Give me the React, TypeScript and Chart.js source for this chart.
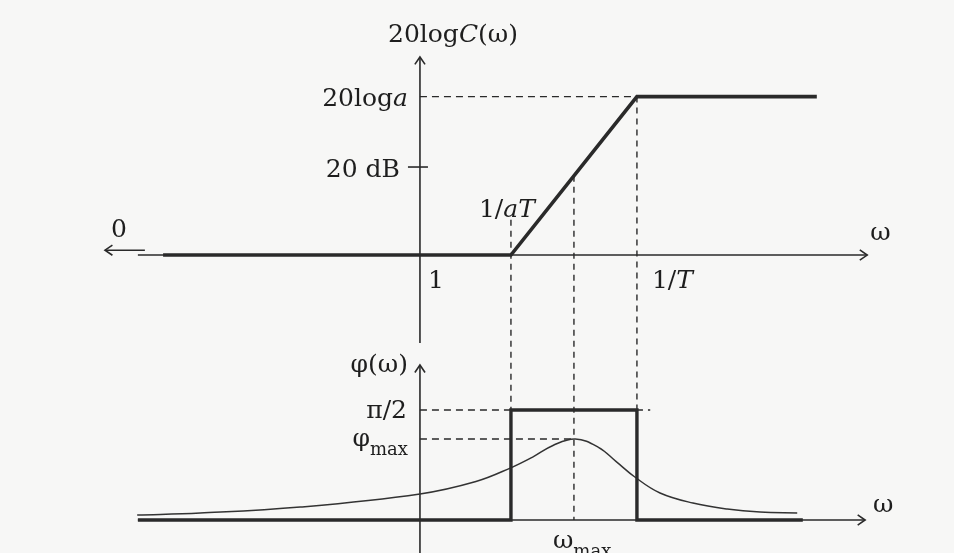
import React, { useEffect, useRef } from "react";
import { Chart, registerables } from "chart.js";
Chart.register(...registerables);

// x axis: log10(ω) in decades (ω = 1 at 0)
const X_RANGE = [-6, 7.63];
// upper panel: gain in dB
const MAG_RANGE = [-67.7, 57.95];
// lower panel: phase in degrees
const PH_RANGE = [-27, 425.5];

const LOG_INV_AT = 1.3; // log10(1/aT)
const LOG_INV_T = 3.1; // log10(1/T)
const LOG_W_MAX = 2.2; // log10(ωmax)
const MAG_HIGH = 36; // 20 log a (dB)
const MAG_TICK = 20; // 20 dB tick
const MAG_AT_WMAX = 18; // asymptote at ωmax
const PHI_HALF_PI = 90;
const PHI_MAX = 66.3;

// asymptotic gain
const magX = [-3.67, LOG_INV_AT, LOG_INV_T, 5.67];
const magY = [0, 0, MAG_HIGH, MAG_HIGH];

// asymptotic phase (rectangle)
const phaseAsymX = [-4.03, LOG_INV_AT, LOG_INV_AT, LOG_INV_T, LOG_INV_T, 5.47];
const phaseAsymY = [0, 0, PHI_HALF_PI, PHI_HALF_PI, 0, 0];

const phaseCurveX = [-4.04, -3.14, -1.71, 0, 0.8, 1.29, 1.61, 1.9, 2.22, 2.55, 2.8, 3.07, 3.43, 3.9, 4.39, 4.86, 5.39];
const phaseCurveY = [4.1, 5.7, 10.6, 21.3, 31.5, 42.5, 51.5, 61.0, 66.3, 59.5, 48.0, 35.2, 22.1, 13.9, 9.0, 6.5, 5.7];

// axes extents
const AXIS_X_START = -4.03;
const UPPER_AXIS_X_END = 6.39;
const LOWER_AXIS_X_END = 6.36;
const UPPER_VAXIS = [-20, 45]; // dB
const LOWER_VAXIS_TOP = 126.8; // deg
const ZERO_ARROW = [-3.93, -4.5]; // ω -> 0 arrow
const ZERO_ARROW_DB = 1.1;
const GUIDE_TOPS = [8, MAG_AT_WMAX, MAG_HIGH]; // dB where vertical guides start
const GUIDE_XS = [LOG_INV_AT, LOG_W_MAX, LOG_INV_T];
const HALF_PI_GUIDE_END = 3.29;

const INK = "#2a2a2a";
const FONT = "DejaVu Serif";
const FS = 25;

type Part = { t: string; i?: boolean; sub?: boolean };

function drawRich(ctx: CanvasRenderingContext2D, parts: Part[], x: number, y: number, align: "left" | "right" | "center") {
  const fontOf = (p: Part) => `${p.i ? "italic " : ""}${p.sub ? Math.round(FS * 0.72) : FS}px "${FONT}"`;
  let w = 0;
  for (const p of parts) {
    ctx.font = fontOf(p);
    w += ctx.measureText(p.t).width;
  }
  let cx = align === "left" ? x : align === "right" ? x - w : x - w / 2;
  ctx.textAlign = "left";
  ctx.textBaseline = "alphabetic";
  ctx.fillStyle = "#1e1e1e";
  for (const p of parts) {
    ctx.font = fontOf(p);
    ctx.fillText(p.t, cx, y + (p.sub ? 9 : 0));
    cx += ctx.measureText(p.t).width;
  }
}

function arrowHead(ctx: CanvasRenderingContext2D, x: number, y: number, ang: number) {
  const len = 9;
  const sp = 0.6;
  ctx.beginPath();
  ctx.moveTo(x - len * Math.cos(ang - sp), y - len * Math.sin(ang - sp));
  ctx.lineTo(x, y);
  ctx.lineTo(x - len * Math.cos(ang + sp), y - len * Math.sin(ang + sp));
  ctx.stroke();
}

const bgPlugin = {
  id: "bg",
  beforeDraw(chart: any) {
    const { ctx, width, height } = chart;
    ctx.save();
    ctx.fillStyle = "#f7f7f6";
    ctx.fillRect(0, 0, width, height);
    ctx.restore();
  },
};

const axesPlugin = {
  id: "axesDecor",
  beforeDatasetsDraw(chart: any) {
    const { ctx } = chart;
    const sx = chart.scales.x;
    const ym = chart.scales.yMag;
    const yp = chart.scales.yPh;
    const X = (v: number) => sx.getPixelForValue(v);
    const M = (v: number) => ym.getPixelForValue(v);
    const P = (v: number) => yp.getPixelForValue(v);
    ctx.save();
    ctx.strokeStyle = INK;
    ctx.lineCap = "butt";

    // vertical dashed guides
    ctx.lineWidth = 1.4;
    ctx.setLineDash([6, 5]);
    GUIDE_XS.forEach((gx, i) => {
      ctx.beginPath();
      ctx.moveTo(X(gx), M(GUIDE_TOPS[i]));
      ctx.lineTo(X(gx), P(0));
      ctx.stroke();
    });
    ctx.setLineDash([]);

    // axes
    ctx.lineWidth = 1.6;
    const x0 = X(0);
    // upper horizontal
    ctx.beginPath();
    ctx.moveTo(X(AXIS_X_START), M(0));
    ctx.lineTo(X(UPPER_AXIS_X_END), M(0));
    ctx.stroke();
    arrowHead(ctx, X(UPPER_AXIS_X_END), M(0), 0);
    // upper vertical
    ctx.beginPath();
    ctx.moveTo(x0, M(UPPER_VAXIS[0]));
    ctx.lineTo(x0, M(UPPER_VAXIS[1]));
    ctx.stroke();
    arrowHead(ctx, x0, M(UPPER_VAXIS[1]), -Math.PI / 2);
    // lower horizontal
    ctx.beginPath();
    ctx.moveTo(X(AXIS_X_START), P(0));
    ctx.lineTo(X(LOWER_AXIS_X_END), P(0));
    ctx.stroke();
    arrowHead(ctx, X(LOWER_AXIS_X_END), P(0), 0);
    // lower vertical
    ctx.beginPath();
    ctx.moveTo(x0, P(PH_RANGE[0]));
    ctx.lineTo(x0, P(LOWER_VAXIS_TOP));
    ctx.stroke();
    arrowHead(ctx, x0, P(LOWER_VAXIS_TOP), -Math.PI / 2);
    // ω -> 0 arrow
    ctx.beginPath();
    ctx.moveTo(X(ZERO_ARROW[0]), M(ZERO_ARROW_DB));
    ctx.lineTo(X(ZERO_ARROW[1]), M(ZERO_ARROW_DB));
    ctx.stroke();
    arrowHead(ctx, X(ZERO_ARROW[1]), M(ZERO_ARROW_DB), Math.PI);
    // 20 dB tick
    ctx.beginPath();
    ctx.moveTo(x0 - 12, M(MAG_TICK));
    ctx.lineTo(x0 + 8, M(MAG_TICK));
    ctx.stroke();

    // labels
    drawRich(ctx, [{ t: "20log" }, { t: "C", i: true }, { t: "(ω)" }], x0 + 33, M(UPPER_VAXIS[1]) - 15, "center");
    drawRich(ctx, [{ t: "20log" }, { t: "a", i: true }], x0 - 12, M(MAG_HIGH) + 9, "right");
    drawRich(ctx, [{ t: "20 dB" }], x0 - 20, M(MAG_TICK) + 10, "right");
    drawRich(ctx, [{ t: "1/" }, { t: "aT", i: true }], X(LOG_INV_AT) - 32, M(0) - 38, "left");
    drawRich(ctx, [{ t: "0" }], X(ZERO_ARROW[1]) + 14, M(0) - 18, "center");
    drawRich(ctx, [{ t: "1" }], x0 + 8, M(0) + 33, "left");
    drawRich(ctx, [{ t: "1/" }, { t: "T", i: true }], X(LOG_INV_T) + 15, M(0) + 33, "left");
    drawRich(ctx, [{ t: "ω" }], X(UPPER_AXIS_X_END) + 3, M(0) - 15, "left");
    drawRich(ctx, [{ t: "φ(ω)" }], x0 - 12, P(LOWER_VAXIS_TOP) + 7, "right");
    drawRich(ctx, [{ t: "π/2" }], x0 - 13, P(PHI_HALF_PI) + 8, "right");
    drawRich(ctx, [{ t: "φ" }, { t: "max", sub: true }], x0 - 12, P(PHI_MAX) + 7, "right");
    drawRich(ctx, [{ t: "ω" }, { t: "max", sub: true }], X(LOG_W_MAX) - 21, P(0) + 28, "left");
    drawRich(ctx, [{ t: "ω" }], X(LOWER_AXIS_X_END) + 8, P(0) - 8, "left");
    ctx.restore();
  },
};

const pts = (xs: number[], ys: number[]) => xs.map((x, i) => ({ x, y: ys[i] }));

export default function App() {
  const ref = useRef<HTMLCanvasElement | null>(null);
  useEffect(() => {
    document.body.style.margin = "0";
    const canvas = ref.current!;
    const chart = new Chart(canvas, {
      type: "line",
      data: {
        datasets: [
          { data: pts(magX, magY), yAxisID: "yMag", borderColor: INK, borderWidth: 3.6, pointRadius: 0, tension: 0, borderJoinStyle: "miter", order: 0 },
          { data: pts(phaseAsymX, phaseAsymY), yAxisID: "yPh", borderColor: INK, borderWidth: 3.4, pointRadius: 0, tension: 0, borderJoinStyle: "miter", order: 0 },
          { data: pts(phaseCurveX, phaseCurveY), yAxisID: "yPh", borderColor: "#333", borderWidth: 1.5, pointRadius: 0, tension: 0.4, order: 1 },
          { data: pts([0, LOG_INV_T], [MAG_HIGH, MAG_HIGH]), yAxisID: "yMag", borderColor: INK, borderWidth: 1.4, borderDash: [7, 5], pointRadius: 0, order: 2 },
          { data: pts([0, HALF_PI_GUIDE_END], [PHI_HALF_PI, PHI_HALF_PI]), yAxisID: "yPh", borderColor: INK, borderWidth: 1.4, borderDash: [7, 5], pointRadius: 0, order: 2 },
          { data: pts([0, LOG_W_MAX], [PHI_MAX, PHI_MAX]), yAxisID: "yPh", borderColor: INK, borderWidth: 1.4, borderDash: [7, 5], pointRadius: 0, order: 2 },
        ] as any,
      },
      options: {
        animation: false,
        responsive: false,
        maintainAspectRatio: false,
        events: [],
        layout: { padding: 0 },
        plugins: { legend: { display: false }, tooltip: { enabled: false } },
        scales: {
          x: { type: "linear", min: X_RANGE[0], max: X_RANGE[1], display: false },
          yMag: { type: "linear", position: "left", min: MAG_RANGE[0], max: MAG_RANGE[1], display: false },
          yPh: { type: "linear", position: "left", min: PH_RANGE[0], max: PH_RANGE[1], display: false },
        },
      } as any,
      plugins: [bgPlugin, axesPlugin],
    });
    return () => chart.destroy();
  }, []);
  return <canvas ref={ref} width={954} height={553} style={{ display: "block", width: 954, height: 553 }} />;
}
